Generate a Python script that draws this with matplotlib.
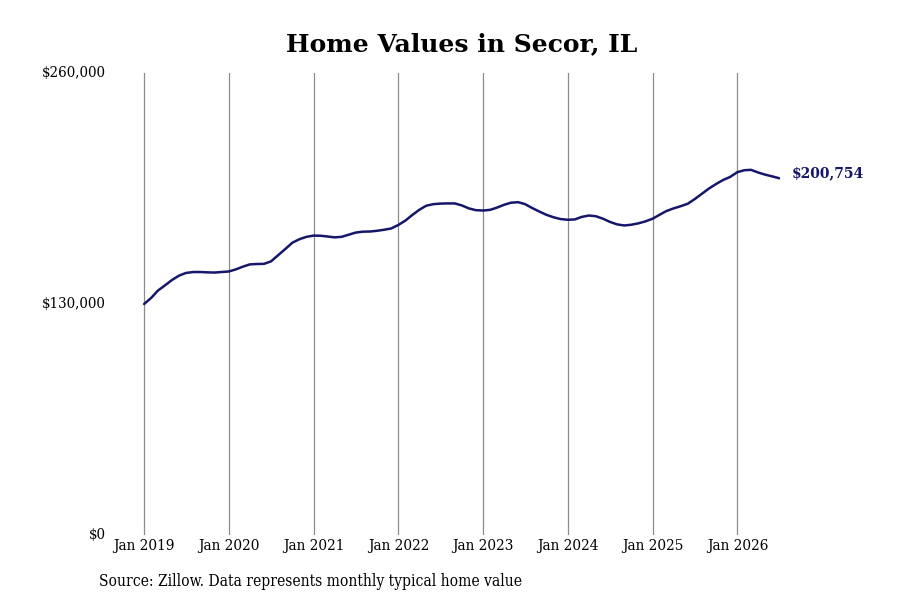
import pandas as pd
import matplotlib.pyplot as plt

# === data (monthly typical home value) ===
start_month = "2019-01-01"
home_values = [
    130000, 133500, 137500, 140500, 143500, 146000, 147500, 148000, 148000, 147800, 147700, 148000,
    148300, 149500, 151000, 152300, 152500, 152600, 154000, 157500, 161000, 164500, 166500, 167800,
    168500, 168400, 168000, 167500, 167800, 169000, 170200, 170700, 170800, 171200, 171800, 172500,
    174500, 177000, 180000, 183000, 185300, 186200, 186500, 186600, 186600, 185500, 183800, 182800,
    182600, 183000, 184200, 185800, 187000, 187300, 186200, 184000, 182000, 180200, 178800, 177800,
    177400, 177600, 179000, 179800, 179400, 178000, 176200, 174800, 174200, 174600, 175400, 176500,
    178000, 180300, 182300, 183800, 185000, 186400, 189000, 192000, 195000, 197500, 199800, 201500,
    204200, 205300, 205500, 204000, 202800, 201800, 200754,
]
tick_years = [2019, 2020, 2021, 2022, 2023, 2024, 2025, 2026]
y_ticks = [0, 130000, 260000]

dates = pd.date_range(start_month, periods=len(home_values), freq="MS")

plt.rcParams["font.family"] = "DejaVu Serif"
line_color = "#16166a"

fig = plt.figure(figsize=(9, 6), dpi=100)
ax = fig.add_axes([120 / 900, 65 / 600, 660 / 900, 462 / 600])

ax.plot(dates, home_values, color=line_color, linewidth=1.8, solid_capstyle="round")

# axis limits / ticks
ax.set_ylim(0, 260000)
ax.set_xlim(pd.Timestamp("2018-09-19"), pd.Timestamp("2026-07-04"))
tick_dates = [pd.Timestamp(f"{y}-01-01") for y in tick_years]
ax.set_xticks(tick_dates)
ax.set_xticklabels([f"Jan {y}" for y in tick_years], fontsize=11, fontstretch="condensed")
ax.set_yticks(y_ticks)
ax.set_yticklabels([f"${v:,.0f}" for v in y_ticks], fontsize=10.8, fontstretch="condensed")
for lbl in ax.get_yticklabels():
    lbl.set_verticalalignment("center")
ax.tick_params(axis="both", length=0)
ax.tick_params(axis="y", pad=10)
ax.tick_params(axis="x", pad=3)

ax.grid(axis="x", color="#8c8c8c", linewidth=0.9)
ax.set_axisbelow(True)
for s in ax.spines.values():
    s.set_visible(False)

# end label
ax.annotate(f"${home_values[-1]:,.0f}", xy=(dates[-1], home_values[-1]),
            xytext=(9, 4), textcoords="offset points", va="center", ha="left",
            fontsize=10, fontweight="bold", color=line_color, annotation_clip=False)

fig.text(462 / 900, 1 - 44 / 600, "Home Values in Secor, IL", ha="center", va="center",
         fontsize=18, fontweight="bold")
fig.text(99 / 900, 1 - 582 / 600, "Source: Zillow. Data represents monthly typical home value",
         ha="left", va="center", fontsize=11.2, fontstretch="condensed")

fig.savefig("out.png", dpi=100)
